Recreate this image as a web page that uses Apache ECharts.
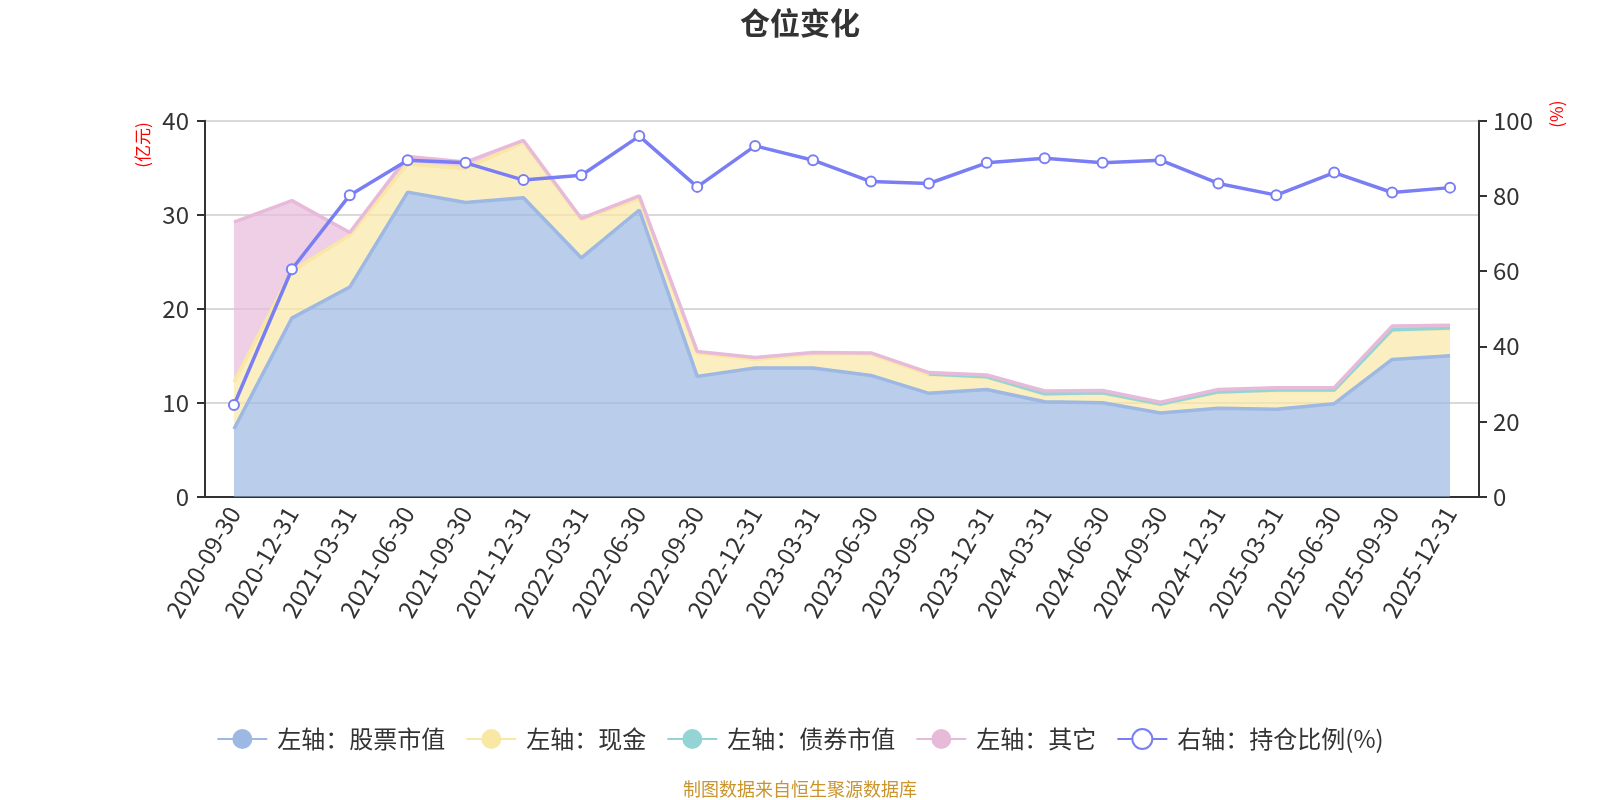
<!DOCTYPE html>
<html>
<head>
<meta charset="utf-8">
<title>仓位变化</title>
<script src="https://cdn.jsdelivr.net/npm/echarts@6/dist/echarts.min.js"></script>
<style>
  html, body { margin: 0; padding: 0; background: #fff; }
  #chart { width: 1600px; height: 800px; }
</style>
</head>
<body>
<div id="chart"></div>
<script>
// 报告期
const dates = [
  '2020-09-30', '2020-12-31', '2021-03-31', '2021-06-30', '2021-09-30', '2021-12-31',
  '2022-03-31', '2022-06-30', '2022-09-30', '2022-12-31', '2023-03-31', '2023-06-30',
  '2023-09-30', '2023-12-31', '2024-03-31', '2024-06-30', '2024-09-30', '2024-12-31',
  '2025-03-31', '2025-06-30', '2025-09-30', '2025-12-31'
];

// 左轴（亿元）
const stockValue = [7.2, 19.0, 22.3, 32.4, 31.3, 31.8, 25.4, 30.5, 12.8, 13.7, 13.7, 12.9,
  11.0, 11.4, 10.1, 10.0, 8.9, 9.4, 9.3, 9.9, 14.6, 15.0];
const cashValue = [5.0, 5.0, 5.5, 3.0, 3.6, 5.9, 4.1, 1.2, 2.5, 0.9, 1.5, 2.3,
  2.0, 1.3, 0.8, 1.0, 0.9, 1.7, 2.0, 1.4, 3.1, 2.9];
const bondValue = ['-', '-', '-', '-', '-', '-', '-', '-', '-', '-', '-', '-',
  0.05, 0.05, 0.05, 0.05, 0.05, 0.05, 0.05, 0.05, 0.05, 0.05];
const otherValue = [17.0, 7.5, 0.3, 0.8, 0.7, 0.2, 0.1, 0.3, 0.15, 0.2, 0.15, 0.1,
  0.15, 0.2, 0.3, 0.25, 0.2, 0.25, 0.25, 0.25, 0.4, 0.3];

// 右轴（%）
const holdRatio = [24.4, 60.5, 80.2, 89.5, 88.8, 84.2, 85.5, 95.9, 82.4, 93.3, 89.5, 83.8,
  83.3, 88.8, 90.0, 88.8, 89.5, 83.3, 80.2, 86.2, 80.9, 82.2];

const leftTicks = { min: 0, max: 40, interval: 10 };
const rightTicks = { min: 0, max: 100, interval: 20 };

const fontFamily = '"Noto Sans CJK SC", "Noto Sans", sans-serif';

const myChart = echarts.init(document.getElementById('chart'));

function areaSeries(name, data, color) {
  return {
    name: name,
    type: 'line',
    stack: 'total',
    yAxisIndex: 0,
    data: data,
    symbol: 'circle',
    showSymbol: false,
    color: color,
    lineStyle: { width: 3.5, color: color },
    itemStyle: { color: color },
    areaStyle: { color: color, opacity: 0.7 }
  };
}

const option = {
  animation: false,
  textStyle: { fontFamily: fontFamily },
  title: [
    {
      text: '仓位变化',
      left: 'center',
      top: 3,
      textStyle: { fontSize: 30, fontWeight: 'bold', color: '#333', fontFamily: fontFamily }
    },
    {
      text: '制图数据来自恒生聚源数据库',
      left: 'center',
      top: 775,
      textStyle: { fontSize: 18, fontWeight: 'normal', color: '#c9952c', fontFamily: fontFamily }
    }
  ],
  legend: {
    left: 'center',
    top: 722,
    itemWidth: 50,
    itemHeight: 25,
    itemGap: 20,
    textStyle: { fontSize: 24, color: '#333', fontFamily: fontFamily, padding: [0, 0, 0, 5] },
    data: ['左轴：股票市值', '左轴：现金', '左轴：债券市值', '左轴：其它', '右轴：持仓比例(%)']
  },
  grid: {
    left: 205,
    right: 121,
    top: 120.7,
    bottom: 303.3,
    containLabel: false,
    outerBoundsMode: 'none'
  },
  xAxis: {
    type: 'category',
    data: dates,
    boundaryGap: true,
    axisLine: { lineStyle: { color: '#333', width: 2 } },
    axisTick: { length: 8, lineStyle: { width: 2, color: '#333' } },
    axisLabel: { rotate: 60, interval: 0, fontSize: 24, color: '#333', margin: 12 }
  },
  yAxis: [
    {
      type: 'value',
      position: 'left',
      min: leftTicks.min,
      max: leftTicks.max,
      interval: leftTicks.interval,
      name: '(亿元)',
      nameLocation: 'end',
      nameRotate: 90,
      nameGap: -47,
      nameMoveOverlap: false,
      nameTextStyle: { color: '#f00', fontSize: 17, align: 'left', verticalAlign: 'bottom', lineHeight: 124 },
      axisLine: { show: true, lineStyle: { color: '#333', width: 2 } },
      axisTick: { show: true, length: 8, lineStyle: { width: 2, color: '#333' } },
      axisLabel: { fontSize: 24, color: '#333', margin: 16 },
      splitLine: { show: true, lineStyle: { color: '#ccc', width: 1.5 } }
    },
    {
      type: 'value',
      position: 'right',
      min: rightTicks.min,
      max: rightTicks.max,
      interval: rightTicks.interval,
      name: '(%)',
      nameLocation: 'end',
      nameRotate: 90,
      nameGap: -7,
      nameMoveOverlap: false,
      nameTextStyle: { color: '#f00', fontSize: 17, align: 'left', verticalAlign: 'top', lineHeight: 156 },
      axisLine: { show: true, lineStyle: { color: '#333', width: 2 } },
      axisTick: { show: true, length: 8, lineStyle: { width: 2, color: '#333' } },
      axisLabel: { fontSize: 24, color: '#333', margin: 14 },
      splitLine: { show: false }
    }
  ],
  series: [
    areaSeries('左轴：股票市值', stockValue, '#9db8e2'),
    areaSeries('左轴：现金', cashValue, '#f9e7a5'),
    areaSeries('左轴：债券市值', bondValue, '#94d4d4'),
    areaSeries('左轴：其它', otherValue, '#e8bada'),
    {
      name: '右轴：持仓比例(%)',
      type: 'line',
      yAxisIndex: 1,
      data: holdRatio,
      symbol: 'emptyCircle',
      symbolSize: 10,
      color: '#7a7ef4',
      lineStyle: { width: 3.5, color: '#7a7ef4' },
      itemStyle: { color: '#7a7ef4', borderWidth: 2 },
      z: 5
    }
  ]
};

myChart.setOption(option);
</script>
</body>
</html>
